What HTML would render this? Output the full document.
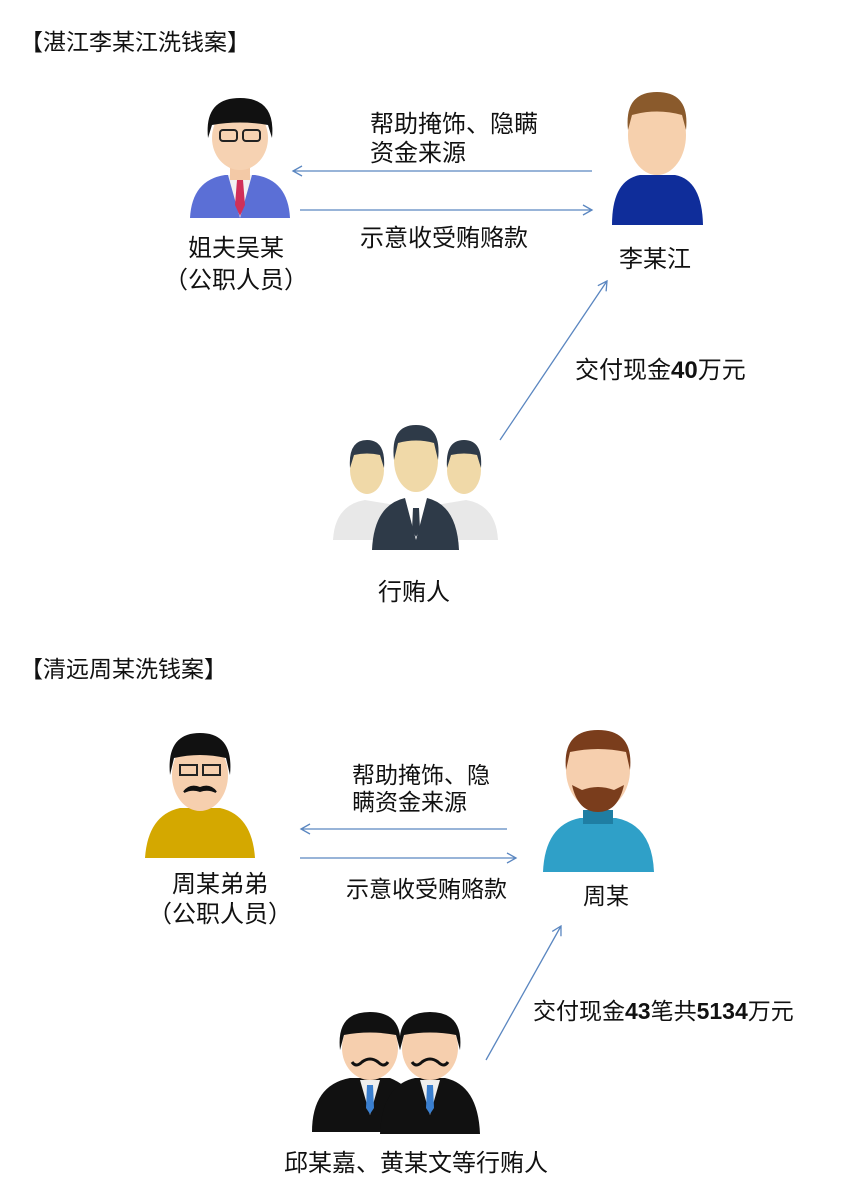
<!DOCTYPE html>
<html><head><meta charset="utf-8"><style>
html,body{margin:0;padding:0;background:#fff;}
body{width:868px;height:1200px;position:relative;overflow:hidden;font-family:"Liberation Sans","Noto Sans CJK SC",sans-serif;color:#111;}
.t{position:absolute;white-space:nowrap;line-height:1;}
svg{position:absolute;left:0;top:0;}
</style></head><body>
<svg width="868" height="1200" viewBox="0 0 868 1200">
<defs>
<marker id="a" markerWidth="12" markerHeight="12" refX="10" refY="6" orient="auto" markerUnits="userSpaceOnUse"><path d="M1,1 L10,6 L1,11" fill="none" stroke="#5a86c0" stroke-width="1.3"/></marker>
</defs>
<g stroke="#5a86c0" stroke-width="1.3" fill="none" marker-end="url(#a)">
<line x1="592" y1="171" x2="293" y2="171"/>
<line x1="300" y1="210" x2="592" y2="210"/>
<line x1="500" y1="440" x2="607" y2="281"/>
<line x1="507" y1="829" x2="301" y2="829"/>
<line x1="300" y1="858" x2="516" y2="858"/>
<line x1="486" y1="1060" x2="561" y2="926"/>
</g>
<g>
<path d="M190,218 Q192,180 225,175 L255,175 Q288,180 290,218 Z" fill="#5b6fd6"/>
<path d="M228,175 L240,218 L252,175 Z" fill="#f2f2f2"/>
<path d="M237,180 L243,180 L245,205 L240,216 L235,205 Z" fill="#d0305a"/>
<rect x="230" y="160" width="20" height="20" fill="#f3c9a6"/>
<ellipse cx="240" cy="138" rx="28" ry="32" fill="#f6d2b2"/>
<path d="M208,138 Q204,98 240,98 Q276,98 272,138 L268,125 Q240,120 212,125 Z" fill="#111"/>
<rect x="220" y="130" width="17" height="11" rx="3" fill="none" stroke="#222" stroke-width="2"/>
<rect x="243" y="130" width="17" height="11" rx="3" fill="none" stroke="#222" stroke-width="2"/>
</g>
<g>
<path d="M612,225 Q612,180 640,175 L675,175 Q702,180 703,225 Z" fill="#0f2d9a"/>
<ellipse cx="657" cy="135" rx="29" ry="40" fill="#f6d0ad"/>
<path d="M628,130 Q624,92 657,92 Q690,92 686,130 L682,115 Q657,108 632,115 Z" fill="#8a5a2c"/>
</g>
<g>
<path d="M333,540 Q335,505 365,500 L395,505 L395,540 Z" fill="#e8e8e8"/>
<path d="M498,540 Q496,505 466,500 L436,505 L436,540 Z" fill="#e8e8e8"/>
<ellipse cx="367" cy="470" rx="17" ry="24" fill="#f0d9a8"/>
<path d="M350,468 Q348,440 367,440 Q386,440 384,468 L380,455 Q367,452 354,455 Z" fill="#2e3a48"/>
<ellipse cx="464" cy="470" rx="17" ry="24" fill="#f0d9a8"/>
<path d="M447,468 Q445,440 464,440 Q483,440 481,468 L477,455 Q464,452 451,455 Z" fill="#2e3a48"/>
<path d="M372,550 Q374,505 405,498 L427,498 Q457,505 459,550 Z" fill="#2e3a48"/>
<path d="M405,498 L416,540 L427,498 Z" fill="#fff"/>
<path d="M413,508 L419,508 L420,530 L416,537 L412,530 Z" fill="#2e3a48"/>
<ellipse cx="416" cy="460" rx="22" ry="32" fill="#f0d9a8"/>
<path d="M394,460 Q390,425 416,425 Q442,425 438,460 L434,443 Q416,438 398,443 Z" fill="#2e3a48"/>
</g>
<g>
<path d="M145,858 Q148,815 180,808 L220,808 Q252,815 255,858 Z" fill="#d4a800"/>
<ellipse cx="200" cy="775" rx="28" ry="36" fill="#f6cfae"/>
<path d="M170,775 Q166,733 200,733 Q234,733 230,775 L226,758 Q200,752 174,758 Z" fill="#111"/>
<rect x="180" y="765" width="17" height="10" fill="none" stroke="#222" stroke-width="2"/>
<rect x="203" y="765" width="17" height="10" fill="none" stroke="#222" stroke-width="2"/>
<path d="M184,792 Q190,784 200,788 Q210,784 216,792 Q208,788 200,791 Q192,788 184,792 Z" fill="#111" stroke="#111" stroke-width="2"/>
</g>
<g>
<path d="M543,872 Q545,825 580,818 L616,818 Q652,825 654,872 Z" fill="#2fa0c8"/>
<rect x="583" y="810" width="30" height="14" fill="#1f7ea3"/>
<ellipse cx="598" cy="770" rx="32" ry="40" fill="#f6cfae"/>
<path d="M566,770 Q562,730 598,730 Q634,730 630,770 L626,752 Q598,746 570,752 Z" fill="#7a3d1c"/>
<path d="M572,785 Q578,812 598,812 Q618,812 624,785 L614,790 Q598,784 582,790 Z" fill="#7a3d1c"/>
</g>
<g>
<path d="M312,1132 Q312,1085 350,1078 L390,1078 Q420,1090 430,1132 Z" fill="#111"/>
<path d="M360,1080 L370,1115 L380,1080 Z" fill="#eee"/>
<path d="M367,1085 L373,1085 L374,1108 L370,1114 L366,1108 Z" fill="#3a7fcf"/>
<ellipse cx="370" cy="1048" rx="28" ry="32" fill="#f6cfae"/>
<path d="M340,1050 Q336,1012 370,1012 Q404,1012 400,1050 L396,1035 Q370,1030 344,1035 Z" fill="#111"/>
<path d="M352,1062 Q356,1068 362,1062 Q370,1056 378,1062 Q384,1068 388,1062" fill="none" stroke="#111" stroke-width="3"/>
<path d="M380,1134 Q382,1085 415,1078 L445,1078 Q478,1085 480,1134 Z" fill="#111"/>
<path d="M420,1080 L430,1115 L440,1080 Z" fill="#eee"/>
<path d="M427,1085 L433,1085 L434,1108 L430,1114 L426,1108 Z" fill="#3a7fcf"/>
<ellipse cx="430" cy="1048" rx="28" ry="32" fill="#f6cfae"/>
<path d="M400,1050 Q396,1012 430,1012 Q464,1012 460,1050 L456,1035 Q430,1030 404,1035 Z" fill="#111"/>
<path d="M412,1062 Q416,1068 422,1062 Q430,1056 438,1062 Q444,1068 448,1062" fill="none" stroke="#111" stroke-width="3"/>
</g>
</svg>
<div class="t" style="left:20px;top:31px;font-size:23px;">【湛江李某江洗钱案】</div>
<div class="t" style="left:370px;top:113px;font-size:24px;">帮助掩饰、隐瞒</div>
<div class="t" style="left:370px;top:142px;font-size:24px;">资金来源</div>
<div class="t" style="left:360px;top:227px;font-size:24px;">示意收受贿赂款</div>
<div class="t" style="left:188px;top:237px;font-size:24px;">姐夫吴某</div>
<div class="t" style="left:164px;top:269px;font-size:24px;">（公职人员）</div>
<div class="t" style="left:619px;top:248px;font-size:24px;">李某江</div>
<div class="t" style="left:575px;top:359px;font-size:24px;">交付现金<b>40</b>万元</div>
<div class="t" style="left:378px;top:581px;font-size:24px;">行贿人</div>
<div class="t" style="left:20px;top:658px;font-size:23px;">【清远周某洗钱案】</div>
<div class="t" style="left:352px;top:764px;font-size:23px;">帮助掩饰、隐</div>
<div class="t" style="left:352px;top:791px;font-size:23px;">瞒资金来源</div>
<div class="t" style="left:346px;top:878px;font-size:23px;">示意收受贿赂款</div>
<div class="t" style="left:172px;top:873px;font-size:24px;">周某弟弟</div>
<div class="t" style="left:148px;top:903px;font-size:24px;">（公职人员）</div>
<div class="t" style="left:583px;top:885px;font-size:23px;">周某</div>
<div class="t" style="left:533px;top:1000px;font-size:23px;">交付现金<b>43</b>笔共<b>5134</b>万元</div>
<div class="t" style="left:284px;top:1152px;font-size:24px;">邱某嘉、黄某文等行贿人</div>
</body></html>
